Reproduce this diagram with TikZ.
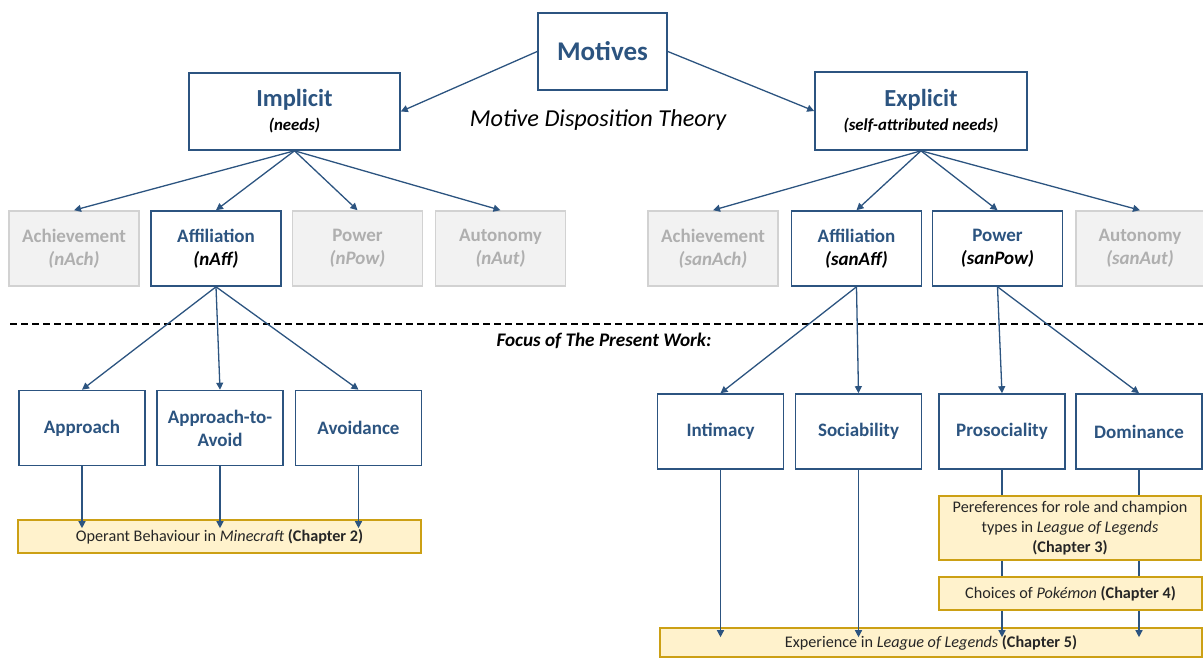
\documentclass[tikz,border=0pt]{standalone}
\usepackage{fontspec}
\setmainfont{Carlito}
\usetikzlibrary{arrows.meta}
\definecolor{mdblue}{RGB}{44,84,128}
\definecolor{mdgreytext}{RGB}{175,175,175}
\definecolor{mdgreyfill}{RGB}{242,242,242}
\definecolor{mdgreyline}{RGB}{210,210,210}
\definecolor{mdcream}{RGB}{255,242,204}
\definecolor{mdgold}{RGB}{204,160,20}
\begin{document}
\begin{tikzpicture}[x=1pt,y=-1pt,
  every node/.style={inner sep=0pt,align=center},
  bluebox/.style={draw=mdblue,line width=1.6pt,fill=white,text=mdblue,font=\fontsize{19}{23}\selectfont\bfseries},
  greybox/.style={draw=mdgreyline,line width=1.6pt,fill=mdgreyfill,text=mdgreytext,font=\fontsize{19}{23}\selectfont\bfseries,minimum width=130pt,minimum height=75pt},
  needbox/.style={bluebox,minimum width=130pt,minimum height=75pt},
  subbox/.style={bluebox,minimum width=126pt,minimum height=75pt},
  chapbox/.style={draw=mdgold,line width=1.6pt,fill=mdcream,text=black!85,font=\fontsize{16.2}{20}\selectfont},
  conn/.style={draw=mdblue,line width=1.3pt,-{Triangle[length=7pt,width=7pt]}},
  plainconn/.style={draw=mdblue,line width=1.3pt}]
\useasboundingbox (0,0) rectangle (1203,658);

% top level
\node[bluebox,minimum width=129pt,minimum height=77pt,font=\fontsize{27}{30}\selectfont\bfseries] (motives) at (602.5,51.5) {Motives};
\node[bluebox,minimum width=211pt,minimum height=77pt] (implicit) at (294.5,111.5)
  {{\fontsize{24.5}{27}\selectfont Implicit}\\[1pt]{\fontsize{16.8}{18}\selectfont\color{black}\itshape (needs)}};
\node[bluebox,minimum width=212pt,minimum height=78pt] (explicit) at (921,111)
  {{\fontsize{24.5}{27}\selectfont Explicit}\\[1pt]{\fontsize{16.8}{18}\selectfont\color{black}\itshape (self-attributed needs)}};
\node[font=\fontsize{24.3}{27}\selectfont\itshape] (theory) at (598,120) {Motive Disposition Theory};

% needs
\node[greybox] (iach) at (74,248.5) {Achievement\\\textit{(nAch)}};
\node[needbox] (iaff) at (216,248.5) {Affiliation\\{\color{black}\textit{(nAff)}}};
\node[greybox] (ipow) at (357.5,248.5) {Power\\\textit{(nPow)}};
\node[greybox] (iaut) at (500.5,248.5) {Autonomy\\\textit{(nAut)}};
\node[greybox] (each) at (713,248.5) {Achievement\\\textit{(sanAch)}};
\node[needbox] (eaff) at (856.5,248.5) {Affiliation\\{\color{black}\textit{(sanAff)}}};
\node[needbox] (epow) at (997.5,248.5) {Power\\{\color{black}\textit{(sanPow)}}};
\node[greybox,minimum width=128pt] (eaut) at (1140,248.5) {Autonomy\\\textit{(sanAut)}};

% focus
\coordinate (dashl) at (10,324);
\coordinate (dashr) at (1203,324);
\draw[black,line width=1.8pt,dash pattern=on 7pt off 4pt] (dashl) -- (dashr);
\node[font=\fontsize{19.2}{22}\selectfont\bfseries\itshape] (focus) at (604,341) {Focus of The Present Work:};

% components
\node[subbox] (appr) at (82,428) {Approach};
\node[subbox] (apav) at (220,428) {Approach-to-\\Avoid};
\node[subbox] (avoi) at (358.5,428) {Avoidance};
\node[subbox] (inti) at (720.5,431.5) {Intimacy};
\node[subbox] (soci) at (858.5,431.5) {Sociability};
\node[subbox] (pros) at (1002,431.5) {Prosociality};
\node[subbox] (domi) at (1139,431.5) {Dominance};

% chapters
\node[chapbox,minimum width=403pt,minimum height=33pt] (ch2) at (219.5,536.5) {Operant Behaviour in \textit{Minecraft} \textbf{(Chapter 2)}};
\node[chapbox,minimum width=262pt,minimum height=64pt] (ch3) at (1070,528) {Pereferences for role and champion\\types in \textit{League of Legends}\\\textbf{(Chapter 3)}};
\node[chapbox,minimum width=263pt,minimum height=33pt] (ch4) at (1070.5,593.5) {Choices of \textit{Pokémon} \textbf{(Chapter 4)}};
\node[chapbox,minimum width=542pt,minimum height=29pt] (ch5) at (931,642.5) {Experience in \textit{League of Legends} \textbf{(Chapter 5)}};

% connectors
\draw[conn] (motives.west) -- (implicit.east);
\draw[conn] (motives.east) -- (explicit.west);
\foreach \n in {iach,iaff,ipow,iaut} \draw[conn] (implicit.south) -- (\n.north);
\foreach \n in {each,eaff,epow,eaut} \draw[conn] (explicit.south) -- (\n.north);
\foreach \n in {appr,apav,avoi} \draw[conn] (iaff.south) -- (\n.north);
\foreach \n in {inti,soci} \draw[conn] (eaff.south) -- (\n.north);
\foreach \n in {pros,domi} \draw[conn] (epow.south) -- (\n.north);
\foreach \n in {appr,apav,avoi} \draw[conn,shorten >=-9pt] (\n.south) -- (\n.south |- ch2.north);
\foreach \n in {inti,soci} \draw[conn,shorten >=-10pt] (\n.south) -- (\n.south |- ch5.north);
\foreach \n in {pros,domi} {
  \draw[plainconn] (\n.south) -- (\n.south |- ch3.north);
  \draw[plainconn] (\n.south |- ch3.south) -- (\n.south |- ch4.north);
  \draw[conn,shorten >=-10pt] (\n.south |- ch4.south) -- (\n.south |- ch5.north);
}
\end{tikzpicture}
\end{document}
